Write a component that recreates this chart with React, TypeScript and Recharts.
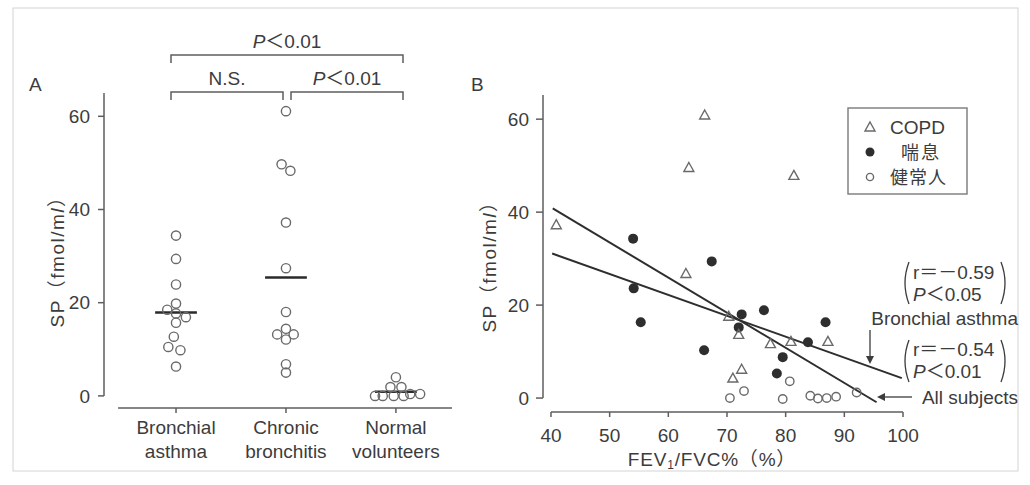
import React from "react";
import { ScatterChart, Scatter, XAxis, YAxis, ReferenceLine } from "recharts";

const FONT = '"Liberation Sans", Arial, "Noto Sans CJK JP", sans-serif';
const INK = "#3c3c3c";
const AXIS = "#5e5e5e";
const MARK = "#6a6a6a";

// ---- panel A: SP by group ----
const groupNames = [
  ["Bronchial", "asthma"],
  ["Chronic", "bronchitis"],
  ["Normal", "volunteers"],
];
const asthmaSP = [34.4, 29.4, 23.9, 19.8, 18.5, 17.7, 16.9, 15.7, 12.7, 10.5, 9.8, 6.3];
const asthmaShift = [0, 0, 0, 0, -0.08, 0, 0.09, 0, -0.02, -0.07, 0.04, 0];
const bronchitisSP = [61.1, 49.7, 48.3, 37.2, 27.4, 18.0, 14.4, 13.2, 13.2, 12.1, 6.8, 5.0];
const bronchitisShift = [0, -0.04, 0.04, 0, 0, 0, 0, -0.08, 0.07, 0, 0, 0];
const normalSP = [4.0, 1.9, 1.9, 0.4, 0.4, 0, 0, 0, 0];
const normalShift = [0, -0.05, 0.05, 0.13, 0.22, -0.19, -0.12, -0.02, 0.07];
const groupMeans = [17.9, 25.4, 0.9];
const spTicks = [0, 20, 40, 60];

// ---- panel B: SP vs FEV1/FVC% ----
const copdFev = [40.9, 66.2, 63.5, 81.4, 63.0, 70.3, 72.0, 77.4, 80.9, 87.2, 71.0, 72.5];
const copdSP = [37.3, 60.9, 49.6, 47.9, 26.8, 17.6, 13.7, 11.7, 12.2, 12.2, 4.3, 6.2];
const asthmaFev = [54.0, 67.4, 54.1, 55.3, 72.5, 72.0, 76.3, 66.1, 78.5, 86.8, 83.8, 79.5];
const asthmaSPb = [34.3, 29.4, 23.6, 16.3, 18.0, 15.2, 18.9, 10.3, 5.3, 16.3, 12.0, 8.8];
const healthyFev = [70.5, 72.9, 79.5, 80.7, 84.2, 85.5, 87.0, 88.6, 92.1];
const healthySP = [0, 1.5, -0.2, 3.6, 0.5, -0.1, 0, 0.3, 1.2];
const fitAll = [
  { x: 40.3, y: 40.8 },
  { x: 95.5, y: -0.9 },
];
const fitAsthma = [
  { x: 40.2, y: 31.1 },
  { x: 99.8, y: 4.3 },
];
const fevTicks = [40, 50, 60, 70, 80, 90, 100];

const toPts = (xs: number[], ys: number[]) => xs.map((x, i) => ({ x, y: ys[i] }));
const groupPts = (g: number, ys: number[], shift: number[]) =>
  ys.map((y, i) => ({ x: g + shift[i], y }));

const OpenCircle = (r: number) => (p: any) =>
  <circle cx={p.cx} cy={p.cy} r={r} fill="none" stroke={MARK} strokeWidth={1.4} />;
const Dot = (p: any) => <circle cx={p.cx} cy={p.cy} r={5} fill="#2e2e2e" />;
const Tri = (p: any) => (
  <path
    d={`M${p.cx},${p.cy - 5} L${p.cx + 5},${p.cy + 4} L${p.cx - 5},${p.cy + 4} Z`}
    fill="none"
    stroke={MARK}
    strokeWidth={1.4}
  />
);

const GroupTick = (props: any) => {
  const { x, y, payload } = props;
  const lines = groupNames[payload.value - 1] || [];
  return (
    <text x={x} y={y} textAnchor="middle" fill={INK} fontSize={19} fontFamily={FONT}>
      {lines.map((s, i) => (
        <tspan key={i} x={x} dy={i === 0 ? 19 : 24}>
          {s}
        </tspan>
      ))}
    </text>
  );
};

const tickStyle = { fill: INK, fontSize: 19, fontFamily: FONT };

export default function App() {
  return (
    <div
      style={{
        position: "fixed",
        left: 0,
        top: 0,
        width: 1030,
        height: 485,
        background: "#fff",
        fontFamily: FONT,
      }}
    >
      {/* A */}
      <div style={{ position: "absolute", left: 0, top: 0 }}>
        <ScatterChart width={470} height={485} margin={{ top: 93, right: 18, bottom: 27, left: 64 }}>
          <XAxis
            type="number"
            dataKey="x"
            domain={[0.345, 3.51]}
            ticks={[1, 2, 3]}
            interval={0}
            allowDataOverflow
            axisLine={false}
            tickLine={{ stroke: AXIS, strokeWidth: 1.5 }}
            tickSize={5}
            tick={<GroupTick />}
            height={50}
          />
          <YAxis
            type="number"
            dataKey="y"
            domain={[-2.6, 65]}
            ticks={spTicks}
            interval={0}
            allowDataOverflow
            axisLine={false}
            tickLine={{ stroke: AXIS, strokeWidth: 1.5 }}
            tickSize={6}
            tickMargin={8}
            width={40}
            tick={tickStyle}
          />
          <ReferenceLine
            segment={[{ x: 0.345, y: 0 }, { x: 0.345, y: 65 }]}
            stroke={AXIS}
            strokeWidth={1.5}
            ifOverflow="visible"
          />
          <ReferenceLine
            segment={[{ x: 0.473, y: -2.6 }, { x: 3.51, y: -2.6 }]}
            stroke={AXIS}
            strokeWidth={1.5}
            ifOverflow="visible"
          />
          {groupMeans.map((m, i) => (
            <ReferenceLine
              key={i}
              segment={[{ x: i + 1 - 0.19, y: m }, { x: i + 1 + 0.19, y: m }]}
              stroke="#2a2a2a"
              strokeWidth={2.5}
              ifOverflow="visible"
            />
          ))}
          <Scatter data={groupPts(1, asthmaSP, asthmaShift)} shape={OpenCircle(4.6)} isAnimationActive={false} />
          <Scatter data={groupPts(2, bronchitisSP, bronchitisShift)} shape={OpenCircle(4.6)} isAnimationActive={false} />
          <Scatter data={groupPts(3, normalSP, normalShift)} shape={OpenCircle(4.6)} isAnimationActive={false} />
        </ScatterChart>
      </div>

      {/* B */}
      <div style={{ position: "absolute", left: 470, top: 0 }}>
        <ScatterChart width={560} height={485} margin={{ top: 95, right: 127, bottom: 33, left: 33 }}>
          <XAxis
            type="number"
            dataKey="x"
            domain={[38.64, 100]}
            ticks={fevTicks}
            interval={0}
            allowDataOverflow
            axisLine={false}
            tickLine={{ stroke: AXIS, strokeWidth: 1.5 }}
            tickSize={5}
            tickMargin={12}
            tick={tickStyle}
            height={40}
          />
          <YAxis
            type="number"
            dataKey="y"
            domain={[-3, 65.2]}
            ticks={spTicks}
            interval={0}
            allowDataOverflow
            axisLine={false}
            tickLine={{ stroke: AXIS, strokeWidth: 1.5 }}
            tickSize={7}
            tickMargin={7}
            width={40}
            tick={tickStyle}
          />
          <ReferenceLine
            segment={[{ x: 38.64, y: 0 }, { x: 38.64, y: 65.2 }]}
            stroke={AXIS}
            strokeWidth={1.5}
            ifOverflow="visible"
          />
          <ReferenceLine
            segment={[{ x: 40, y: -3 }, { x: 100, y: -3 }]}
            stroke={AXIS}
            strokeWidth={1.5}
            ifOverflow="visible"
          />
          <ReferenceLine segment={fitAll} stroke="#2e2e2e" strokeWidth={2} ifOverflow="visible" />
          <ReferenceLine segment={fitAsthma} stroke="#2e2e2e" strokeWidth={2} ifOverflow="visible" />
          <Scatter data={toPts(healthyFev, healthySP)} shape={OpenCircle(4.2)} isAnimationActive={false} />
          <Scatter data={toPts(asthmaFev, asthmaSPb)} shape={Dot} isAnimationActive={false} />
          <Scatter data={toPts(copdFev, copdSP)} shape={Tri} isAnimationActive={false} />
        </ScatterChart>
      </div>

      {/* annotations */}
      <svg
        width={1030}
        height={485}
        style={{ position: "absolute", left: 0, top: 0, pointerEvents: "none" }}
        fontFamily={FONT}
        fill={INK}
      >
        <rect x={13} y={8} width={1005} height={463} fill="none" stroke="#d4d4d4" strokeWidth={1} />

        <text x={29} y={91} fontSize={19}>A</text>
        <text x={471} y={91} fontSize={19}>B</text>

        {/* brackets */}
        <g fill="none" stroke={AXIS} strokeWidth={1.5}>
          <path d="M171,63 V55 H403 V63" />
          <path d="M171,100 V92 H283 V100" />
          <path d="M291,100 V92 H403 V100" />
        </g>
        <text x={287} y={48} fontSize={19} textAnchor="middle">
          <tspan fontStyle="italic">P</tspan>＜0.01
        </text>
        <text x={227} y={85} fontSize={19} textAnchor="middle">N.S.</text>
        <text x={347} y={85} fontSize={19} textAnchor="middle">
          <tspan fontStyle="italic">P</tspan>＜0.01
        </text>

        {/* axis titles */}
        <text x={57} y={257} fontSize={19} letterSpacing={1.5} textAnchor="middle" transform="rotate(-90 57 257)" dy="0.35em">
          SP（fmol/m<tspan fontStyle="italic">l</tspan>）
        </text>
        <text x={489} y={262} fontSize={19} letterSpacing={1.5} textAnchor="middle" transform="rotate(-90 489 262)" dy="0.35em">
          SP（fmol/m<tspan fontStyle="italic">l</tspan>）
        </text>
        <text x={712} y={466} fontSize={19} letterSpacing={0.8} textAnchor="middle">
          FEV<tspan fontSize={12} dy={3}>1</tspan>
          <tspan dy={-3}>/FVC%（%）</tspan>
        </text>

        {/* legend */}
        <rect x={848} y={108} width={119} height={86} fill="#fff" stroke="#7a7a7a" strokeWidth={1.4} />
        <path d="M870,122 L875,131 L865,131 Z" fill="none" stroke={MARK} strokeWidth={1.4} />
        <circle cx={870} cy={152} r={4.5} fill="#2e2e2e" />
        <circle cx={870} cy={177} r={3.6} fill="none" stroke={MARK} strokeWidth={1.4} />
        <text x={890} y={134} fontSize={19}>COPD</text>
        <text x={901} y={159} fontSize={18} letterSpacing={2}>喘息</text>
        <text x={890} y={184} fontSize={18} letterSpacing={1}>健常人</text>

        {/* correlation notes */}
        <g fill="none" stroke={INK} strokeWidth={1.3}>
          <path d="M909,262 Q901,283 909,304" />
          <path d="M1001,262 Q1009,283 1001,304" />
          <path d="M909,340 Q901,361 909,382" />
          <path d="M1001,340 Q1009,361 1001,382" />
          <path d="M870,330 V360" />
          <path d="M912,397 H882" />
        </g>
        <path d="M866,356 L870,364 L874,356 Z" fill={INK} />
        <path d="M885,393 L877,397 L885,401 Z" fill={INK} />
        <text x={913} y={279} fontSize={19}>r＝－0.59</text>
        <text x={913} y={301} fontSize={19}>
          <tspan fontStyle="italic">P</tspan>＜0.05
        </text>
        <text x={1018} y={325} fontSize={19} textAnchor="end">Bronchial asthma</text>
        <text x={913} y={356} fontSize={19}>r＝－0.54</text>
        <text x={913} y={378} fontSize={19}>
          <tspan fontStyle="italic">P</tspan>＜0.01
        </text>
        <text x={1018} y={404} fontSize={19} textAnchor="end">All subjects</text>
      </svg>
    </div>
  );
}
